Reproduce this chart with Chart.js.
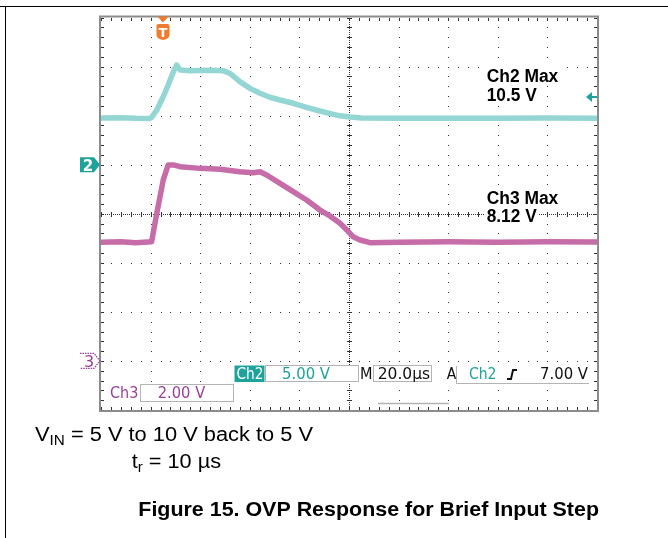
<!DOCTYPE html>
<html><head><meta charset="utf-8">
<script src="https://cdn.jsdelivr.net/npm/chart.js@4/dist/chart.umd.min.js"></script>
<style>
html,body{margin:0;padding:0;background:#fff;}
#wrap{position:relative;width:668px;height:538px;overflow:hidden;background:#fff;}
#c{position:absolute;left:0;top:0;}
#frame{position:absolute;left:5px;top:6px;width:700px;height:600px;border-left:1px solid #000;border-top:1px solid #000;}
#topline{position:absolute;left:0;top:6px;width:668px;height:1px;background:#000;}
</style></head><body>
<div id="wrap"><canvas id="c" width="668" height="538"></canvas><div id="frame"></div><div id="topline"></div></div>
<script>
// ---- data ----
// time in microseconds from the left edge of the screen (20 µs/div, 10 div)
const ch2Time  = [0, 8, 14, 19.5, 20.4, 22.5, 25.1, 27.1, 29.2, 30.5, 31.9, 36, 40, 44, 49.2, 52, 56, 60.1, 64.1, 68.1, 72.2, 77.5, 82.9, 88.3, 93.7, 96.4, 100.4, 105, 120, 140, 160, 180, 200];
const ch2Volts = [4.75, 4.78, 4.72, 4.70, 4.83, 5.57, 6.93, 8.12, 9.48, 10.16, 9.65, 9.58, 9.60, 9.62, 9.58, 9.31, 8.46, 7.78, 7.28, 6.87, 6.59, 6.26, 5.85, 5.47, 5.13, 4.98, 4.86, 4.76, 4.72, 4.74, 4.72, 4.75, 4.73];
const ch3Time  = [0, 8, 14, 20.4, 22.5, 25.1, 27.1, 29.2, 31.9, 39.9, 48, 56, 61.4, 64.1, 66.8, 72.2, 77.5, 82.9, 88.3, 92.3, 96.4, 99.1, 101.7, 104.4, 108.5, 120, 140, 160, 180, 200];
const ch3Volts = [4.84, 4.86, 4.82, 4.86, 6.02, 7.38, 7.99, 7.99, 7.92, 7.85, 7.81, 7.71, 7.67, 7.71, 7.58, 7.24, 6.90, 6.56, 6.15, 5.91, 5.61, 5.34, 5.06, 4.93, 4.82, 4.84, 4.86, 4.84, 4.86, 4.85];
// screen ranges (8 vertical divisions)
const timeRange = [0, 200];  const timePerDiv = 20;
const ch2Range = [-25, 15];  const ch2PerDiv = 5;
const ch3Range = [-2, 14];   const ch3PerDiv = 2;
const trigTime = 25;         const trigLevel = 7;
// readouts
const ch2MaxLabel = ['Ch2 Max', '10.5 V'];
const ch3MaxLabel = ['Ch3 Max', '8.12 V'];
const ch2ScaleLabel = '5.00 V';
const ch3ScaleLabel = '2.00 V';
const timebaseLabel = '20.0µs';
const trigLabel = '7.00 V';
const captionLines = ['V', 'IN', ' = 5 V to 10 V back to 5 V', 't', 'r', ' = 10 µs', 'Figure 15. OVP Response for Brief Input Step'];

const C2 = '#94d6d3', C3 = '#c66ca9', TEAL = '#1ea39c', PURP = '#9a3f9a', ORANGE = '#f07b2c';
const SANS = '"Liberation Sans", Arial, sans-serif';
const SCOPE = '"DejaVu Sans", sans-serif';

function fitText(ctx, segs, x, base, target, bg) {
  let total = 0;
  segs.forEach(s => { ctx.font = s.font; s.w = ctx.measureText(s.t).width; total += s.w; });
  const sx = target ? target / total : 1;
  if (bg) { ctx.fillStyle = '#fff'; ctx.fillRect(x - 2, base - bg, total * sx + 4, bg + 4); }
  ctx.save(); ctx.translate(x, base); ctx.scale(sx, 1);
  let cx = 0;
  segs.forEach(s => { ctx.font = s.font; ctx.fillStyle = s.color || '#000'; ctx.textBaseline = 'alphabetic'; ctx.textAlign = 'left'; ctx.fillText(s.t, cx, s.dy || 0); cx += s.w; });
  ctx.restore();
}

const graticule = {
  id: 'graticule',
  beforeDatasetsDraw(chart) {
    const { ctx, chartArea: a, scales } = chart;
    const x = scales.x, y = scales.y2;
    const nx = (timeRange[1] - timeRange[0]) / timePerDiv, ny = (ch2Range[1] - ch2Range[0]) / ch2PerDiv;
    const majX = [], minX = [], majY = [], minY = [];
    for (let i = 0; i <= nx * 5; i++) { const p = x.getPixelForValue(timeRange[0] + i * timePerDiv / 5); minX.push(p); if (i % 5 === 0) majX.push(p); }
    for (let i = 0; i <= ny * 5; i++) { const p = y.getPixelForValue(ch2Range[0] + i * ch2PerDiv / 5); minY.push(p); if (i % 5 === 0) majY.push(p); }
    const cX = majX[nx / 2], cY = majY[ny / 2];
    ctx.save();
    ctx.fillStyle = '#333';
    const R = Math.round;
    majX.forEach((px, i) => { if (i === 0 || i === nx || i === nx / 2) return; minY.forEach(py => ctx.fillRect(R(px), R(py), 1, 1)); });
    majY.forEach((py, i) => { if (i === 0 || i === ny || i === ny / 2) return; minX.forEach(px => ctx.fillRect(R(px), R(py), 1, 1)); });
    // center cross
    for (let py = a.top; py <= a.bottom; py += 2) ctx.fillRect(R(cX), R(py), 1, 1);
    for (let px = a.left; px <= a.right; px += 2) ctx.fillRect(R(px), R(cY), 1, 1);
    minY.forEach(py => ctx.fillRect(R(cX) - 2, R(py), 5, 1));
    minX.forEach(px => ctx.fillRect(R(px), R(cY) - 2, 1, 5));
    // border ticks
    minX.forEach(px => { ctx.fillRect(R(px), R(a.top), 1, 3); ctx.fillRect(R(px), R(a.bottom) - 3, 1, 3); });
    minY.forEach(py => { ctx.fillRect(R(a.left), R(py), 3, 1); ctx.fillRect(R(a.right) - 3, R(py), 3, 1); });
    ctx.strokeStyle = '#8c8c8c'; ctx.lineWidth = 2;
    ctx.strokeRect(a.left - 1, a.top - 1, a.right - a.left + 2, a.bottom - a.top + 2);
    ctx.restore();
  }
};

const overlay = {
  id: 'overlay',
  afterDatasetsDraw(chart) {
    const { ctx, chartArea: a, scales } = chart;
    const x = scales.x, y2 = scales.y2, y3 = scales.y3;
    ctx.save();
    // trigger position marker
    const tx = x.getPixelForValue(trigTime);
    ctx.fillStyle = ORANGE;
    ctx.beginPath(); ctx.moveTo(tx - 5.5, a.top - 1); ctx.lineTo(tx + 5.5, a.top - 1); ctx.lineTo(tx, a.top + 5); ctx.closePath(); ctx.fill();
    ctx.beginPath();
    const bx = tx - 6.5, by = a.top + 6.5, bw = 13, bh = 15;
    ctx.moveTo(bx + 2, by); ctx.lineTo(bx + bw - 2, by); ctx.quadraticCurveTo(bx + bw, by, bx + bw, by + 2);
    ctx.lineTo(bx + bw, by + bh - 4); ctx.quadraticCurveTo(bx + bw, by + bh, bx + bw / 2, by + bh + 1);
    ctx.quadraticCurveTo(bx, by + bh, bx, by + bh - 4); ctx.lineTo(bx, by + 2); ctx.quadraticCurveTo(bx, by, bx + 2, by);
    ctx.fill();
    ctx.fillStyle = '#fff'; ctx.font = 'bold 13px ' + SCOPE; ctx.textAlign = 'center'; ctx.textBaseline = 'alphabetic';
    ctx.fillText('T', tx, by + 13);
    // Ch2 ground marker
    const g2 = y2.getPixelForValue(0);
    ctx.fillStyle = TEAL;
    ctx.beginPath(); ctx.moveTo(a.left - 21, g2 - 7.5); ctx.lineTo(a.left - 7, g2 - 7.5); ctx.lineTo(a.left - 1, g2); ctx.lineTo(a.left - 7, g2 + 7.5); ctx.lineTo(a.left - 21, g2 + 7.5); ctx.closePath(); ctx.fill();
    ctx.fillStyle = '#fff'; ctx.font = 'bold 15px ' + SCOPE; ctx.textAlign = 'center';
    ctx.fillText('2', a.left - 13, g2 + 6);
    // Ch3 ground marker
    const g3 = y3.getPixelForValue(0);
    ctx.strokeStyle = PURP; ctx.lineWidth = 1.2; ctx.setLineDash([1.5, 1]);
    ctx.beginPath(); ctx.moveTo(a.left - 21, g3 - 7.5); ctx.lineTo(a.left - 7, g3 - 7.5); ctx.lineTo(a.left - 1, g3); ctx.lineTo(a.left - 7, g3 + 7.5); ctx.lineTo(a.left - 21, g3 + 7.5); ctx.stroke();
    ctx.setLineDash([]);
    ctx.fillStyle = PURP; ctx.font = '16px ' + SCOPE;
    ctx.fillText('3', a.left - 12, g3 + 6);
    // trigger level arrow
    const tl = y2.getPixelForValue(trigLevel) + 1;
    ctx.fillStyle = TEAL;
    ctx.beginPath(); ctx.moveTo(a.right - 11, tl); ctx.lineTo(a.right - 5, tl - 5); ctx.lineTo(a.right - 5, tl + 5); ctx.closePath(); ctx.fill();
    ctx.fillRect(a.right - 6, tl - 1, 6, 2);
    // Max readouts
    const bf = 'bold 18px ' + SANS;
    fitText(ctx, [{ t: ch2MaxLabel[0], font: bf }], 486.7, 81.7, 71.6, 15);
    fitText(ctx, [{ t: ch2MaxLabel[1], font: bf }], 486.7, 100.7, 50, 15);
    fitText(ctx, [{ t: ch3MaxLabel[0], font: bf }], 486.7, 204, 71.6, 15);
    fitText(ctx, [{ t: ch3MaxLabel[1], font: bf }], 486.7, 222.3, 50, 15);
    // bottom readouts
    const sf = '15px ' + SCOPE;
    ctx.fillStyle = '#fff';
    ctx.fillRect(234, 365, 356, 19); ctx.fillRect(140, 384, 94, 18);
    ctx.fillStyle = TEAL; ctx.fillRect(234.5, 365.5, 30, 16.5);
    ctx.strokeStyle = '#b4b4b4'; ctx.lineWidth = 1;
    ctx.strokeRect(265.5, 365.5, 93, 16);
    ctx.strokeRect(373.5, 365.5, 58, 16);
    ctx.strokeRect(140.5, 384.5, 93, 17);
    ctx.beginPath(); ctx.moveTo(456.5, 366); ctx.lineTo(456.5, 383.5); ctx.lineTo(589, 383.5); ctx.stroke();
    ctx.lineWidth = 1.5; ctx.beginPath(); ctx.moveTo(378, 403.5); ctx.lineTo(449, 403.5); ctx.stroke();
    fitText(ctx, [{ t: 'Ch2', font: sf, color: '#fff' }], 236.5, 379.3, 27);
    fitText(ctx, [{ t: ch2ScaleLabel, font: sf, color: TEAL }], 282, 379.3, 48);
    fitText(ctx, [{ t: 'M', font: sf, color: '#111' }], 360, 379.3, 12.5);
    fitText(ctx, [{ t: timebaseLabel, font: sf, color: '#111' }], 377.7, 379.3, 52.5);
    fitText(ctx, [{ t: 'A', font: sf, color: '#111' }], 446.7, 379.3, 9.5);
    fitText(ctx, [{ t: 'Ch2', font: sf, color: TEAL }], 469, 379.3, 27.5);
    fitText(ctx, [{ t: trigLabel, font: sf, color: '#111' }], 540, 379.3, 48);
    fitText(ctx, [{ t: 'Ch3', font: sf, color: PURP }], 110, 398.3, 28.3);
    fitText(ctx, [{ t: ch3ScaleLabel, font: sf, color: PURP }], 157.7, 398.3, 47.5);
    ctx.strokeStyle = '#111'; ctx.lineWidth = 2; ctx.lineCap = 'butt';
    ctx.beginPath(); ctx.moveTo(507, 379); ctx.lineTo(511, 379); ctx.lineTo(513, 370); ctx.lineTo(517, 370); ctx.stroke();
    ctx.restore();
  },
  afterDraw(chart) {
    const ctx = chart.ctx;
    const f = '20px ' + SANS, fs = '14px ' + SANS;
    fitText(ctx, [{ t: captionLines[0], font: f }, { t: captionLines[1], font: fs, dy: 4 }, { t: captionLines[2], font: f }], 35, 441, 278);
    fitText(ctx, [{ t: captionLines[3], font: f }, { t: captionLines[4], font: fs, dy: 4 }, { t: captionLines[5], font: f }], 131.7, 468.3, 89.3);
    fitText(ctx, [{ t: captionLines[6], font: 'bold 20px ' + SANS }], 138.3, 516.3, 460.7);
  }
};

const mk = (ts, vs) => ts.map((t, i) => ({ x: t, y: vs[i] }));
new Chart(document.getElementById('c'), {
  type: 'line',
  data: { datasets: [
    { label: 'Ch2', data: mk(ch2Time, ch2Volts), yAxisID: 'y2', borderColor: C2, borderWidth: 5.5, pointRadius: 0, tension: 0, borderJoinStyle: 'round', fill: false },
    { label: 'Ch3', data: mk(ch3Time, ch3Volts), yAxisID: 'y3', borderColor: C3, borderWidth: 5.5, pointRadius: 0, tension: 0, borderJoinStyle: 'round', fill: false }
  ] },
  options: {
    responsive: false, animation: false, devicePixelRatio: 1, events: [],
    layout: { padding: { left: 101, top: 17.5, right: 71, bottom: 128 } },
    plugins: { legend: { display: false }, tooltip: { enabled: false }, title: { display: false } },
    scales: {
      x: { type: 'linear', min: timeRange[0], max: timeRange[1], display: false },
      y2: { type: 'linear', min: ch2Range[0], max: ch2Range[1], display: false },
      y3: { type: 'linear', min: ch3Range[0], max: ch3Range[1], display: false }
    }
  },
  plugins: [graticule, overlay]
});
</script>
</body></html>
